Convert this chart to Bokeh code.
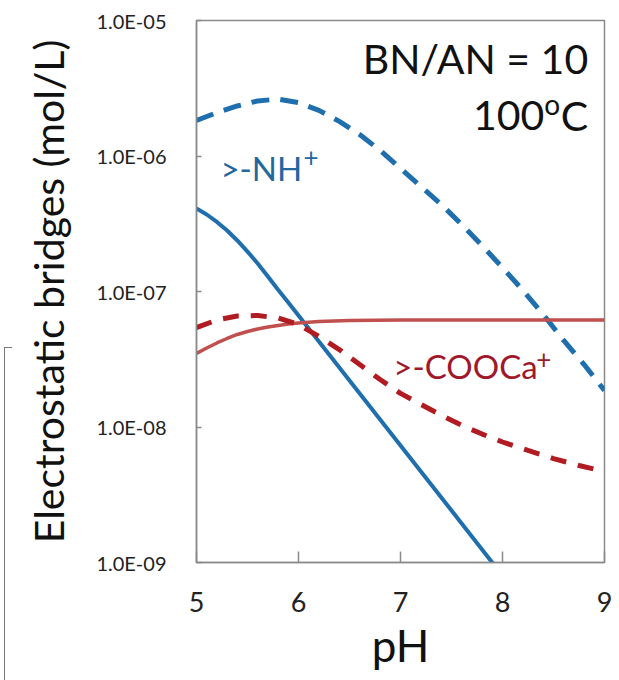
from bokeh.plotting import figure
from bokeh.models import FixedTicker, CustomJSTickFormatter, Label, Range1d, Div
from bokeh.layouts import row
from bokeh.embed import file_html
from bokeh.resources import INLINE

# >-NH+ bridges (mol/L)
ph_nh_dashed = [5.0, 5.2, 5.4, 5.6, 5.8, 6.0, 6.2, 6.4, 6.6, 6.8, 7.0,
                7.2, 7.4, 7.6, 7.8, 8.0, 8.2, 8.4, 8.6, 8.8, 9.0]
nh_dashed = [1.83e-6, 2.09e-6, 2.34e-6, 2.55e-6, 2.63e-6, 2.48e-6, 2.17e-6, 1.80e-6, 1.44e-6,
             1.10e-6, 8.09e-7, 5.96e-7, 4.39e-7, 3.12e-7, 2.18e-7, 1.50e-7, 1.02e-7,
             6.76e-8, 4.35e-8, 2.89e-8, 1.86e-8]
ph_nh_solid = [5.0, 5.1, 5.2, 5.3, 5.4, 5.5, 5.6, 5.7, 5.8, 5.9, 6.0, 6.5, 7.0, 7.5, 8.0]
nh_solid = [4.10e-7, 3.70e-7, 3.26e-7, 2.82e-7, 2.38e-7, 1.97e-7, 1.61e-7, 1.29e-7, 1.03e-7,
            8.30e-8, 6.65e-8, 2.20e-8, 7.30e-9, 2.42e-9, 8.0e-10]

# >-COOCa+ bridges (mol/L)
ph_cooca_dashed = [5.0, 5.2, 5.4, 5.6, 5.8, 6.0, 6.2, 6.4, 6.6, 6.8, 7.0,
                   7.2, 7.4, 7.6, 7.8, 8.0, 8.25, 8.5, 8.75, 9.0]
cooca_dashed = [5.42e-8, 6.16e-8, 6.59e-8, 6.65e-8, 6.37e-8, 5.71e-8, 4.66e-8, 3.73e-8, 2.89e-8,
                2.24e-8, 1.77e-8, 1.47e-8, 1.22e-8, 1.03e-8, 8.87e-9, 7.75e-9, 6.71e-9,
                5.85e-9, 5.20e-9, 4.69e-9]
ph_cooca_solid = [5.0, 5.1, 5.2, 5.3, 5.4, 5.5, 5.6, 5.7, 5.8, 5.9, 6.0, 6.2, 6.5,
                  7.0, 7.5, 8.0, 8.5, 9.0]
cooca_solid = [3.49e-8, 3.83e-8, 4.17e-8, 4.50e-8, 4.82e-8, 5.07e-8, 5.29e-8, 5.47e-8, 5.61e-8,
               5.75e-8, 5.86e-8, 6.01e-8, 6.11e-8, 6.16e-8, 6.16e-8, 6.16e-8, 6.16e-8, 6.16e-8]

x_ticks = [5, 6, 7, 8, 9]
y_ticks = [1e-9, 1e-8, 1e-7, 1e-6, 1e-5]

FONT = "Lato"
BLUE = "#1f6fae"
RED_SOLID = "#c0504d"
RED_DASHED = "#b01c22"
AXIS_GREY = "#8a8a8a"
TEXT_DARK = "#111111"

p = figure(width=607, height=680, y_axis_type="log",
           x_range=Range1d(5, 9), y_range=Range1d(1e-9, 1e-5),
           output_backend="svg", toolbar_location=None,
           min_border_left=184, min_border_right=15,
           min_border_top=20, min_border_bottom=118)

p.background_fill_color = "white"
p.border_fill_color = "white"
p.outline_line_color = AXIS_GREY
p.outline_line_width = 1.5
p.xgrid.grid_line_color = None
p.ygrid.grid_line_color = None

p.line(ph_nh_dashed, nh_dashed, line_color=BLUE, line_width=5, line_dash="18 11")
p.line(ph_nh_solid, nh_solid, line_color=BLUE, line_width=4)
p.line(ph_cooca_solid, cooca_solid, line_color=RED_SOLID, line_width=3.5)
p.line(ph_cooca_dashed, cooca_dashed, line_color=RED_DASHED, line_width=5, line_dash="16 12")

# axes
p.xaxis.ticker = FixedTicker(ticks=x_ticks)
p.yaxis.ticker = FixedTicker(ticks=y_ticks)
p.yaxis.formatter = CustomJSTickFormatter(code="""
    const s = tick.toExponential(1);
    const parts = s.split('e');
    const n = parseInt(parts[1]);
    return parts[0] + 'E' + (n < 0 ? '-' : '+') + String(Math.abs(n)).padStart(2, '0');
""")
for ax in (p.xaxis, p.yaxis):
    ax.axis_line_color = AXIS_GREY
    ax.axis_line_width = 1.5
    ax.major_tick_line_color = AXIS_GREY
    ax.major_tick_line_width = 1.5
    ax.major_tick_out = 0
    ax.minor_tick_line_color = None
    ax.major_label_text_font = FONT
    ax.major_label_text_color = "#222222"
    ax.axis_label_text_font = FONT
    ax.axis_label_text_font_style = "normal"
    ax.axis_label_text_color = TEXT_DARK

p.xaxis.major_tick_in = 11
p.yaxis.major_tick_in = 5
p.xaxis.major_label_text_font_size = "27px"
p.yaxis.major_label_text_font_size = "20px"
p.xaxis.major_label_standoff = 29
p.yaxis.major_label_standoff = 30

p.xaxis.axis_label = "pH"
p.xaxis.axis_label_text_font_size = "44px"
p.xaxis.axis_label_standoff = 4
p.yaxis.axis_label = "Electrostatic bridges (mol/L)"
p.yaxis.axis_label_text_font_size = "41px"
p.yaxis.axis_label_standoff = 20

# annotations
def add_label(x, y, text, size, color, align="left"):
    p.add_layout(Label(x=x, y=y, text=text, text_font=FONT, text_font_size=size,
                       text_color=color, text_align=align, text_baseline="alphabetic"))

add_label(8.84, 5.24e-6, "BN/AN = 10", "41px", TEXT_DARK, align="right")
add_label(8.41, 1.99e-6, "100", "41px", TEXT_DARK, align="right")
add_label(8.41, 2.44e-6, "o", "28px", TEXT_DARK)
add_label(8.57, 1.99e-6, "C", "41px", TEXT_DARK)

add_label(5.235, 8.09e-7, ">-NH", "33px", "#22679e")
add_label(6.05, 9.75e-7, "+", "26px", "#22679e")
add_label(6.93, 2.80e-8, ">-COOCa", "33px", "#a0182b")
add_label(8.33, 3.20e-8, "+", "26px", "#a0182b")

# edge of the neighbouring panel on the far left
edge = Div(text="", width=8, height=333, margin=(347, 0, 0, 4),
           styles={"border-top": "1.5px solid #7a7a7a",
                   "border-left": "1.5px solid #7a7a7a",
                   "box-sizing": "border-box"})

layout = row(edge, p, spacing=0)
open("out.html", "w").write(file_html(layout, INLINE))
